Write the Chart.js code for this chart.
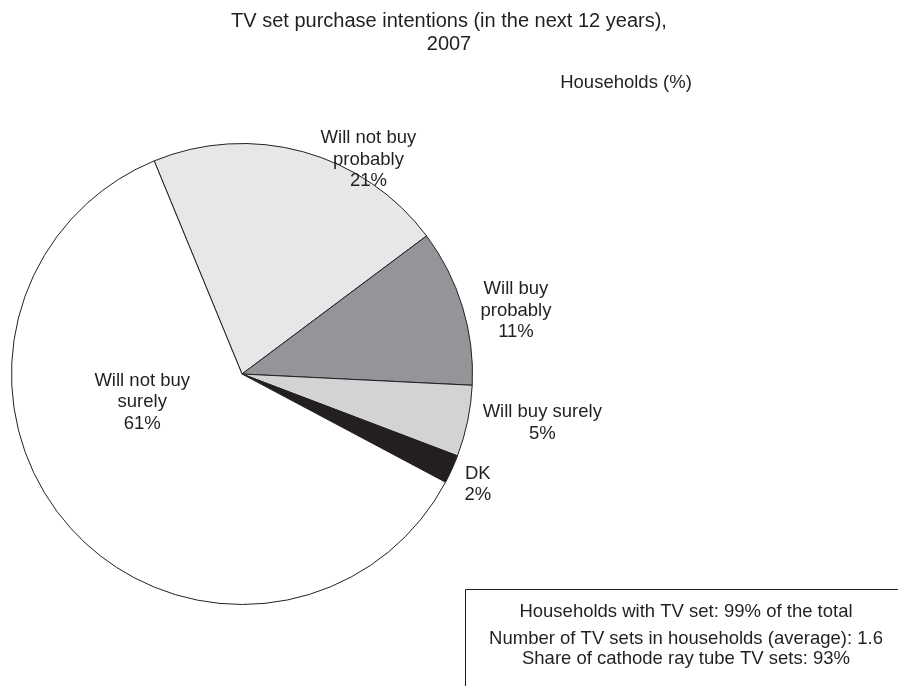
<!DOCTYPE html>
<html>
<head>
<meta charset="utf-8">
<script src="https://cdn.jsdelivr.net/npm/chart.js@4/dist/chart.umd.min.js"></script>
<style>
  html, body { margin: 0; padding: 0; background: #fff; }
  #wrap { width: 898px; height: 686px; }
</style>
</head>
<body>
<div id="wrap"><canvas id="myChart" width="898" height="686"></canvas></div>
<script>
const categories = ['Will not buy probably', 'Will buy probably', 'Will buy surely', 'DK', 'Will not buy surely'];
const shares = [21, 11, 5, 2, 61];
const labelLines = [
    ['Will not buy', 'probably'],
    ['Will buy', 'probably'],
    ['Will buy surely'],
    ['DK'],
    ['Will not buy', 'surely']
];
const titleLines = ['TV set purchase intentions (in the next 12 years),', '2007'];
const unitNote = 'Households (%)';
const notes = [
    'Households with TV set: 99% of the total',
    'Number of TV sets in households (average): 1.6',
    'Share of cathode ray tube TV sets: 93%'
];

const ink = '#231f20';
const font = '"Liberation Sans", Arial, sans-serif';

// where each label sits: fraction along the slice, and distance in radii
const labelSpots = [
    { t: 0.70, r: 1.08 },
    { t: 0.60, r: 1.22 },
    { t: 0.36, r: 1.32 },
    { t: 0.60, r: 1.13 },
    { t: 0.62, r: 0.45 }
];

const sliceLabels = {
    id: 'sliceLabels',
    afterDatasetsDraw(chart) {
        const ctx = chart.ctx;
        const arcs = chart.getDatasetMeta(0).data;
        ctx.save();
        ctx.fillStyle = ink;
        ctx.font = '18.5px ' + font;
        ctx.textAlign = 'center';
        ctx.textBaseline = 'middle';
        arcs.forEach((arc, i) => {
            const p = arc.getProps(['x', 'y', 'startAngle', 'endAngle', 'outerRadius'], true);
            const spot = labelSpots[i];
            const a = p.startAngle + (p.endAngle - p.startAngle) * spot.t;
            const cx = p.x + Math.cos(a) * p.outerRadius * spot.r;
            const cy = p.y + Math.sin(a) * p.outerRadius * spot.r;
            const lines = labelLines[i].concat([shares[i] + '%']);
            const lh = 21.5;
            const y0 = cy - (lines.length - 1) * lh / 2;
            lines.forEach((s, k) => ctx.fillText(s, cx, y0 + k * lh));
        });
        ctx.restore();
    }
};

const pageText = {
    id: 'pageText',
    afterDraw(chart) {
        const ctx = chart.ctx;
        ctx.save();
        ctx.fillStyle = ink;
        ctx.textAlign = 'center';
        ctx.textBaseline = 'middle';
        ctx.font = '20px ' + font;
        ctx.fillText(titleLines[0], 449, 21);
        ctx.fillText(titleLines[1], 449, 44);
        ctx.font = '18.5px ' + font;
        ctx.fillText(unitNote, 626, 83);

        // info box, open to the right and bottom
        ctx.strokeStyle = ink;
        ctx.lineWidth = 1;
        ctx.beginPath();
        ctx.moveTo(465.5, 686);
        ctx.lineTo(465.5, 589.5);
        ctx.lineTo(898, 589.5);
        ctx.stroke();
        ctx.fillText(notes[0], 686, 612);
        ctx.fillText(notes[1], 686, 639);
        ctx.fillText(notes[2], 686, 659);
        ctx.restore();
    }
};

const data = {
    labels: categories,
    datasets: [{
        data: shares,
        backgroundColor: ['#e6e7e8', '#939598', '#d1d3d4', '#231f20', '#ffffff'],
        borderColor: ink,
        borderWidth: 1,
        borderAlign: 'center'
    }]
};

const config = {
    type: 'pie',
    data: data,
    plugins: [sliceLabels, pageText],
    options: {
        responsive: false,
        animation: false,
        rotation: -22.4,
        layout: {
            padding: { left: 10, right: 424, top: 143, bottom: 81 }
        },
        plugins: {
            legend: { display: false },
            tooltip: { enabled: false },
            title: { display: false }
        }
    }
};

const myChart = new Chart(document.getElementById('myChart'), config);
</script>
</body>
</html>
